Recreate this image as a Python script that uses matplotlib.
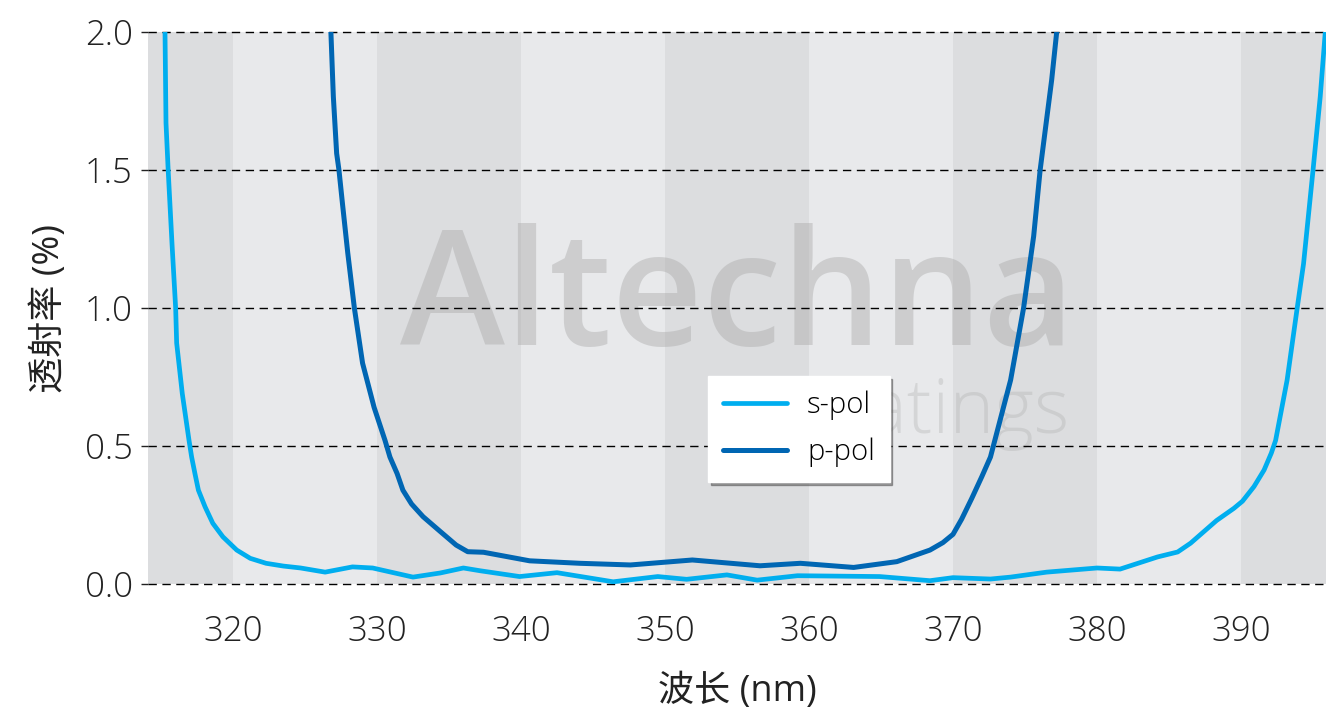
import numpy as np
import matplotlib.pyplot as plt
from matplotlib import font_manager

# pick a light-weight latin family if one is installed
latin = 'Noto Sans'
light = 'normal'
for fam in ['Open Sans', 'Lato', 'Noto Sans', 'Roboto', 'Inter']:
    ws = [f.weight for f in font_manager.fontManager.ttflist if f.name == fam]
    ws = [w if isinstance(w, int) else 400 for w in ws]
    if any(w <= 300 for w in ws):
        latin, light = fam, 'light'
        break
plt.rcParams['font.family'] = [latin, 'Noto Sans CJK SC', 'DejaVu Sans']
plt.rcParams['font.weight'] = light

# s-pol transmission (%)
s_wl = [315.28, 315.35, 315.5, 315.77, 316.02, 316.09, 316.48, 316.95, 317.13, 317.36,
        317.6, 318.06, 318.6, 319.3, 320.26, 321.2, 322.3, 323.5, 324.7, 326.4, 328.3,
        329.7, 332.5, 334.4, 336.0, 337.16, 339.9, 342.5, 346.4, 349.5, 351.5, 354.3,
        356.4, 359.2, 364.9, 368.4, 370.0, 372.6, 374.0, 376.5, 380.0, 381.6, 384.2,
        385.6, 386.5, 388.3, 389.5, 390.1, 390.9, 391.6, 392.1, 392.4, 393.2, 393.9,
        394.34, 395.0, 395.5, 395.85]
s_t = [2.0, 1.67, 1.5, 1.23, 1.0, 0.873, 0.69, 0.52, 0.46, 0.40,
       0.34, 0.28, 0.22, 0.171, 0.123, 0.093, 0.075, 0.065, 0.058, 0.043, 0.062,
       0.058, 0.025, 0.04, 0.058, 0.048, 0.027, 0.041, 0.008, 0.027, 0.017, 0.033,
       0.014, 0.030, 0.027, 0.012, 0.023, 0.018, 0.025, 0.043, 0.058, 0.054, 0.098,
       0.116, 0.148, 0.23, 0.274, 0.30, 0.353, 0.413, 0.474, 0.52, 0.739, 1.0,
       1.16, 1.5, 1.766, 2.0]

# p-pol transmission (%)
p_wl = [326.8, 326.97, 327.2, 327.36, 327.6, 327.97, 328.43, 329.0, 329.8, 330.56,
        330.9, 331.4, 331.8, 332.4, 333.2, 334.4, 335.5, 336.3, 337.4, 340.6, 344.1,
        347.6, 351.9, 356.6, 359.4, 363.1, 366.1, 368.4, 369.3, 370.0, 370.6, 371.3,
        372.0, 372.6, 374.0, 374.9, 375.6, 376.05, 376.85, 377.2]
p_t = [2.0, 1.766, 1.56, 1.5, 1.38, 1.2, 1.0, 0.80, 0.64, 0.52,
       0.46, 0.40, 0.34, 0.29, 0.244, 0.19, 0.141, 0.117, 0.115, 0.084, 0.075,
       0.069, 0.087, 0.066, 0.075, 0.060, 0.081, 0.123, 0.15, 0.18, 0.235, 0.31,
       0.389, 0.46, 0.739, 1.0, 1.26, 1.5, 1.826, 2.0]

xticks = [320, 330, 340, 350, 360, 370, 380, 390]
yticks = [0.0, 0.5, 1.0, 1.5, 2.0]

W, H = 1328, 709
fig = plt.figure(figsize=(W / 100, H / 100), dpi=100)
ax = fig.add_axes([148 / W, 1 - 584 / H, 1178 / W, 552 / H])
ax.set_xlim(314.1, 395.9)
ax.set_ylim(0, 2.0)

# alternating background bands
for i, left in enumerate(range(310, 400, 10)):
    c = '#dcdddf' if i % 2 == 0 else '#e8e9eb'
    ax.axvspan(left, left + 10, color=c, zorder=0, lw=0)

# watermark, sized to its box in the reference
fig.canvas.draw()
r = fig.canvas.get_renderer()
wm1 = ax.text(400 / W, 1 - 345 / H, 'Altechna', transform=fig.transFigure, fontsize=100,
              color='#a8a8a8', alpha=0.42, ha='left', va='baseline', zorder=1,
              fontweight='semibold')
wm1.set_fontsize(100 * 675 / wm1.get_window_extent(r).width)
wm2 = ax.text(775 / W, 1 - 433 / H, 'Coatings', transform=fig.transFigure, fontsize=50,
              color='#a8a8a8', alpha=0.3, ha='left', va='baseline', zorder=1)
wm2.set_fontsize(50 * 295 / wm2.get_window_extent(r).width)

for y in yticks:
    ax.axhline(y, color='black', lw=1, ls=(0, (6, 4)), zorder=2, clip_on=False)

ax.plot(s_wl, s_t, color='#00aeef', lw=3.4, label='s-pol', zorder=3,
        solid_capstyle='round', solid_joinstyle='round')
ax.plot(p_wl, p_t, color='#0066b3', lw=3.6, label='p-pol', zorder=3,
        solid_capstyle='round', solid_joinstyle='round')

for s in ax.spines.values():
    s.set_visible(False)
ax.set_xticks(xticks)
ax.set_yticks(yticks)
ax.set_yticklabels([f'{v:.1f}' for v in yticks])
ax.tick_params(axis='x', length=0, labelsize=25, pad=22, colors='#222222')
ax.tick_params(axis='y', length=5, width=1, labelsize=25, pad=6, colors='#222222')
ax.set_xlabel('波长 (nm)', fontsize=26, labelpad=18, color='#222222')
ax.set_ylabel('透射率 (%)', fontsize=26, labelpad=12, color='#222222')

leg = ax.legend(loc='lower left', bbox_to_anchor=((708 - 148) / 1178, (584 - 482) / 552),
                fontsize=21, frameon=True, fancybox=False, shadow=True, handlelength=2.2,
                borderpad=0.5, labelspacing=0.6, handletextpad=0.7, borderaxespad=0)
leg.get_frame().set_edgecolor('white')
leg.get_frame().set_facecolor('white')
leg.set_zorder(5)

fig.savefig('out.png', dpi=100)
